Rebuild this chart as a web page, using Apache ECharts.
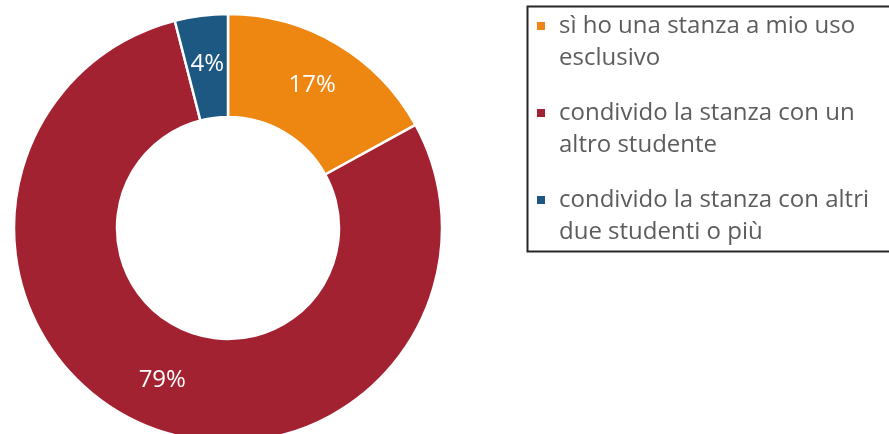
<!DOCTYPE html>
<html>
<head>
<meta charset="utf-8">
<script src="https://cdn.jsdelivr.net/npm/echarts@6/dist/echarts.min.js"></script>
<style>
  html, body { margin: 0; padding: 0; background: #fff; }
  #chart { width: 889px; height: 434px; }
</style>
</head>
<body>
<div id="chart"></div>
<script>
// Room arrangement answers, share of respondents (%)
const categories = [
  'sì ho una stanza a mio uso\nesclusivo',
  'condivido la stanza con un\naltro studente',
  'condivido la stanza con altri\ndue studenti o più'
];
const values = [17, 79, 4];
const colors = ['#EE8712', '#A32232', '#1D5883'];

const chart = echarts.init(document.getElementById('chart'), null, { renderer: 'canvas' });

// Legend marker: small square aligned with the first text line of each entry
const legendIcon = 'path://M0,0L0,0M0,12L8,12L8,20L0,20ZM17,64L17,64';

chart.setOption({
  animation: false,
  backgroundColor: '#ffffff',
  // Frame around the legend, running off the right edge of the canvas
  graphic: [{
    type: 'rect',
    left: 525,
    top: 4,
    shape: { width: 380, height: 245 },
    style: { fill: 'none', stroke: '#262626', lineWidth: 2 },
    silent: true,
    z: 0
  }],
  legend: {
    orient: 'vertical',
    left: 537,
    top: 10,
    padding: 0,
    itemGap: 23,
    itemWidth: 17,
    itemHeight: 64,
    icon: legendIcon,
    itemStyle: { borderWidth: 0 },
    selectedMode: false,
    data: categories,
    textStyle: {
      fontFamily: 'Open Sans',
      fontSize: 24,
      lineHeight: 32,
      color: '#5c5c5c'
    }
  },
  series: [{
    type: 'pie',
    center: [228, 228],
    radius: [111, 214],
    startAngle: 90,
    clockwise: true,
    avoidLabelOverlap: false,
    silent: true,
    itemStyle: { borderColor: '#ffffff', borderWidth: 2.5 },
    label: {
      show: true,
      position: 'inside',
      formatter: '{c}%',
      fontFamily: 'Open Sans',
      fontSize: 24,
      color: '#ffffff'
    },
    labelLine: { show: false },
    data: categories.map((name, i) => ({
      name: name,
      value: values[i],
      itemStyle: { color: colors[i] }
    }))
  }]
});
</script>
</body>
</html>
